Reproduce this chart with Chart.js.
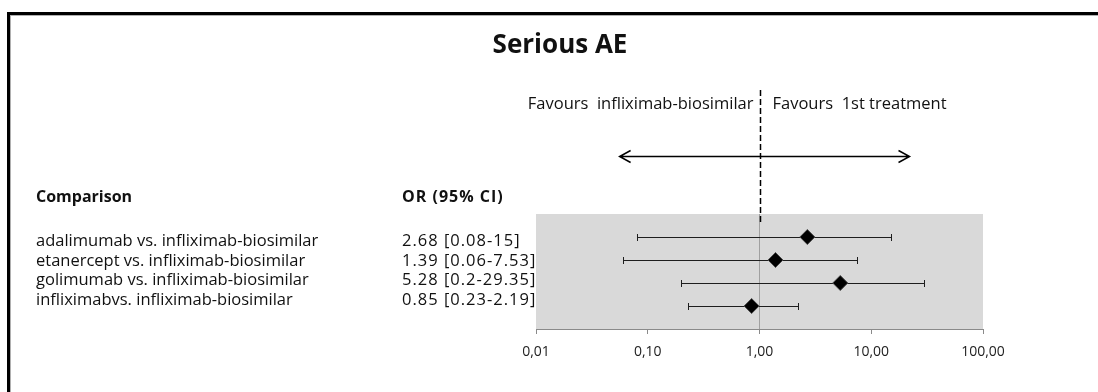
<!DOCTYPE html>
<html>
<head>
<meta charset="utf-8">
<title>Serious AE</title>
<script src="https://cdn.jsdelivr.net/npm/chart.js@4/dist/chart.umd.min.js"></script>
<style>
  html, body { margin: 0; padding: 0; background: #ffffff; }
  #wrap { width: 1098px; height: 392px; }
</style>
</head>
<body>
<div id="wrap"><canvas id="forest" width="1098" height="392"></canvas></div>
<script>
// Comparisons and their odds ratios with 95% confidence intervals
const comparisons = [
  'adalimumab vs. infliximab-biosimilar',
  'etanercept vs. infliximab-biosimilar',
  'golimumab vs. infliximab-biosimilar',
  'infliximabvs. infliximab-biosimilar'
];
const orValues = [2.68, 1.39, 5.28, 0.85];
const ciLow = [0.08, 0.06, 0.2, 0.23];
const ciHigh = [15, 7.53, 29.35, 2.19];
const ciLabels = ['2.68 [0.08-15]', '1.39 [0.06-7.53]', '5.28 [0.2-29.35]', '0.85 [0.23-2.19]'];

// Log axis ticks and their labels
const tickValues = [0.01, 0.1, 1, 10, 100];
const tickLabels = ['0,01', '0,10', '1,00', '10,00', '100,00'];

// Extent of the "favours" arrow on the odds-ratio scale
const arrowRange = [0.056, 22];

const FONT = '"Open Sans", Lato, sans-serif';
const TEXT = '#111111';

const points = orValues.map((v, i) => ({ x: v, y: i + 1 }));

const forestPlugin = {
  id: 'forest',
  beforeDraw(chart) {
    const { ctx, chartArea: a } = chart;
    ctx.save();
    // Frame around the figure
    ctx.fillStyle = '#000000';
    ctx.fillRect(7, 12, 1098 - 7, 3);
    ctx.fillRect(7, 12, 3, 392 - 12);
    ctx.fillStyle = '#b0b0b0';
    ctx.fillRect(10, 15, 1098 - 10, 1);
    ctx.fillRect(10, 15, 1, 392 - 15);
    // Plot background
    ctx.fillStyle = '#d9d9d9';
    ctx.fillRect(a.left, a.top, a.right - a.left, a.bottom - a.top);
    ctx.restore();
  },
  beforeDatasetsDraw(chart) {
    // Confidence-interval whiskers, drawn beneath the point markers
    const { ctx } = chart;
    const xs = chart.scales.x, ys = chart.scales.y;
    ctx.save();
    ctx.strokeStyle = '#1e1e1e';
    ctx.lineWidth = 1;
    for (let i = 0; i < orValues.length; i++) {
      const y = Math.round(ys.getPixelForValue(i + 1)) + 0.5;
      const x1 = Math.round(xs.getPixelForValue(ciLow[i])) + 0.5;
      const x2 = Math.round(xs.getPixelForValue(ciHigh[i])) + 0.5;
      ctx.beginPath();
      ctx.moveTo(x1, y); ctx.lineTo(x2, y);
      ctx.moveTo(x1, y - 3.5); ctx.lineTo(x1, y + 3.5);
      ctx.moveTo(x2, y - 3.5); ctx.lineTo(x2, y + 3.5);
      ctx.stroke();
    }
    ctx.restore();
  },
  afterDraw(chart) {
    const { ctx, chartArea: a } = chart;
    const xs = chart.scales.x;
    const x1 = Math.round(xs.getPixelForValue(1)) + 0.5;
    ctx.save();

    // Title
    ctx.fillStyle = TEXT;
    ctx.textBaseline = 'middle';
    ctx.textAlign = 'center';
    ctx.font = 'bold 26px ' + FONT;
    ctx.fillText('Serious AE', 560, 46);

    // Line of no effect, dashed above the plot
    ctx.strokeStyle = '#000000';
    ctx.lineWidth = 1.5;
    ctx.setLineDash([6, 3]);
    ctx.beginPath();
    ctx.moveTo(x1, 90);
    ctx.lineTo(x1, a.top + 8);
    ctx.stroke();
    ctx.setLineDash([]);

    // Favours labels
    ctx.font = '16.5px ' + FONT;
    ctx.textAlign = 'right';
    ctx.fillText('Favours  infliximab-biosimilar', x1 - 7, 104);
    ctx.textAlign = 'left';
    ctx.fillText('Favours  1st treatment', x1 + 12, 104);

    // Double-headed arrow
    const ax1 = xs.getPixelForValue(arrowRange[0]);
    const ax2 = xs.getPixelForValue(arrowRange[1]);
    const ay = 156.5;
    ctx.lineWidth = 1.5;
    ctx.beginPath();
    ctx.moveTo(ax1, ay); ctx.lineTo(ax2, ay);
    ctx.moveTo(ax1 + 11, ay - 6); ctx.lineTo(ax1, ay); ctx.lineTo(ax1 + 11, ay + 6);
    ctx.moveTo(ax2 - 11, ay - 6); ctx.lineTo(ax2, ay); ctx.lineTo(ax2 - 11, ay + 6);
    ctx.stroke();

    // Table: comparison column
    ctx.textAlign = 'left';
    ctx.font = 'bold 16px ' + FONT;
    ctx.fillText('Comparison', 36, 197);
    ctx.font = '16.5px ' + FONT;
    for (let i = 0; i < comparisons.length; i++) {
      ctx.fillText(comparisons[i], 36, 241.5 + i * 19.6);
    }

    // Table: odds-ratio column (slightly wider digit spacing)
    ctx.letterSpacing = '1px';
    ctx.font = 'bold 16px ' + FONT;
    ctx.fillText('OR (95% CI)', 402, 197);
    ctx.font = '16.5px ' + FONT;
    for (let i = 0; i < ciLabels.length; i++) {
      ctx.fillText(ciLabels[i], 402, 241.5 + i * 19.6);
    }
    ctx.letterSpacing = '0px';
    ctx.restore();
  }
};

new Chart(document.getElementById('forest'), {
  type: 'scatter',
  data: {
    datasets: [{
      data: points,
      pointStyle: 'rectRot',
      pointRadius: 7.5,
      pointHoverRadius: 7.5,
      backgroundColor: '#000000',
      borderColor: '#4a4a4a',
      borderWidth: 1
    }]
  },
  options: {
    responsive: false,
    animation: false,
    devicePixelRatio: 1,
    layout: { padding: { left: 536, right: 115, top: 214, bottom: 23 } },
    plugins: { legend: { display: false }, tooltip: { enabled: false }, title: { display: false } },
    scales: {
      x: {
        type: 'logarithmic',
        min: 0.01,
        max: 100,
        afterBuildTicks(scale) { scale.ticks = tickValues.map(v => ({ value: v })); },
        afterFit(scale) { scale.height = 40; },
        border: { display: true, color: '#8a8a8a', width: 1 },
        grid: {
          drawOnChartArea: true,
          color: c => (c.tick && c.tick.value === 1 ? '#a0a0a0' : 'rgba(0,0,0,0)'),
          tickColor: '#8a8a8a',
          tickLength: 5,
          lineWidth: 1
        },
        ticks: {
          autoSkip: false,
          maxRotation: 0,
          padding: 10,
          color: '#222222',
          font: { family: FONT, size: 14 },
          callback: (v, i) => tickLabels[i]
        }
      },
      y: {
        type: 'linear',
        min: 0,
        max: 5,
        reverse: true,
        display: false
      }
    }
  },
  plugins: [forestPlugin]
});
</script>
</body>
</html>
